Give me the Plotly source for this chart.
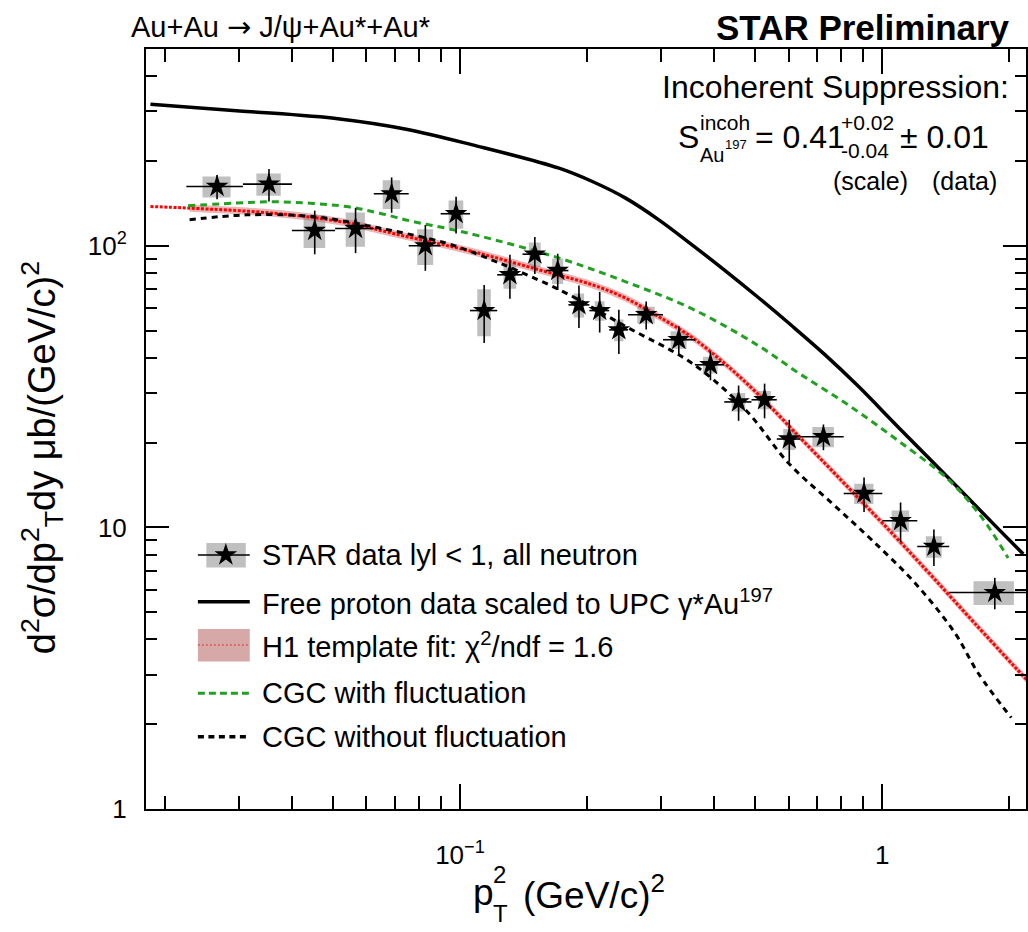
import plotly.graph_objects as go

# ---------------- data ----------------
# STAR data: bins in pT^2 (GeV/c)^2
bin_lo = [0.0225, 0.030625, 0.04, 0.050625, 0.0625, 0.075625, 0.09, 0.105625, 0.1225, 0.140625,
          0.16, 0.180625, 0.2025, 0.225625, 0.25, 0.3025, 0.36, 0.4225, 0.49, 0.5625,
          0.64, 0.81, 1.0, 1.21, 1.44]
bin_hi = [0.030625, 0.04, 0.050625, 0.0625, 0.075625, 0.09, 0.105625, 0.1225, 0.140625, 0.16,
          0.180625, 0.2025, 0.225625, 0.25, 0.3025, 0.36, 0.4225, 0.49, 0.5625, 0.64,
          0.81, 1.0, 1.21, 1.44, 2.25]
data_x = [0.0266, 0.0353, 0.0453, 0.0566, 0.0689, 0.0828, 0.0979, 0.1141, 0.1313, 0.1504,
          0.1704, 0.1913, 0.2142, 0.2378, 0.2760, 0.3297, 0.3918, 0.4568, 0.5263, 0.6021,
          0.7254, 0.9052, 1.1047, 1.3248, 1.8463]
data_y = [162.4, 165.6, 113.3, 115.2, 153.0, 100.0, 130.0, 58.9, 78.9, 93.4,
          81.7, 61.7, 58.9, 50.3, 56.9, 46.4, 37.8, 27.9, 28.4, 20.6,
          21.0, 13.2, 10.56, 8.56, 5.87]
stat_err = [16, 22, 20, 21, 22, 18.5, 19.5, 13.7, 14, 14,
            12, 10.6, 9.7, 9, 6.5, 5.4, 4.5, 4.0, 4.0, 3.5,
            2.2, 1.85, 1.7, 1.27, 0.75]
sys_err = [14, 15, 15, 16, 18, 14.5, 15, 11.2, 8.5, 9.4,
           8.5, 6, 4.7, 4.5, 3.9, 3.3, 2.6, 2.1, 2.1, 1.75,
           1.75, 1.1, 0.93, 0.75, 0.57]

# Free proton data scaled to UPC gamma*Au
free_x = [0.0185, 0.0301, 0.0519, 0.0746, 0.1071, 0.1716, 0.2058, 0.2467, 0.2957, 0.3544,
          0.4251, 0.5094, 0.6107, 0.7322, 0.8776, 1.091, 1.514, 1.897, 2.156]
free_y = [318.5, 301.4, 282.3, 259.6, 228.3, 188.7, 169.2, 147.7, 123.7, 100.8,
          81.5, 65.4, 52.0, 41.0, 31.7, 22.7, 13.8, 9.76, 8.04]

# H1 template fit (central line and band)
fit_x = [0.0185, 0.0229, 0.0361, 0.0519, 0.0746, 0.1071, 0.1539, 0.2058, 0.2467, 0.2957,
         0.3544, 0.4251, 0.5094, 0.6335, 0.759, 0.910, 1.091, 1.308, 1.656, 2.2]
fit_y = [137.9, 136.1, 130.6, 122.0, 107.9, 95.4, 82.2, 72.7, 65.2, 56.0,
         47.3, 38.0, 29.6, 21.1, 15.94, 12.02, 9.03, 6.73, 4.56, 2.87]
band_x = [0.0229, 0.0361, 0.0519, 0.0746, 0.1071, 0.1539, 0.2058, 0.2467, 0.2957,
          0.3544, 0.4251, 0.5094, 0.6335, 0.759, 0.910, 1.091, 1.308, 1.656, 2.2]
band_hi = [140.2, 134.5, 125.7, 111.1, 98.3, 84.7, 74.9, 67.2, 57.7,
           48.7, 39.1, 30.5, 21.7, 16.42, 12.38, 9.30, 6.93, 4.70, 2.96]
band_lo = [132.1, 126.8, 118.4, 104.8, 92.6, 79.8, 70.6, 63.3, 54.4,
           45.9, 36.9, 28.7, 20.5, 15.48, 11.67, 8.77, 6.53, 4.43, 2.79]

# CGC with fluctuation
cgcf_x = [0.0227, 0.0312, 0.0374, 0.0538, 0.0645, 0.0773, 0.0927, 0.111, 0.172, 0.247,
          0.354, 0.509, 0.634, 0.831, 1.091, 1.432, 1.716, 1.985]
cgcf_y = [138.7, 142.5, 143.3, 137.9, 130.6, 122.0, 115.5, 108.5, 90.4, 74.5,
          59.8, 44.2, 35.3, 27.2, 20.3, 14.8, 10.9, 7.79]

# CGC without fluctuation
cgc_x = [0.0229, 0.0312, 0.0449, 0.0645, 0.0927, 0.111, 0.172, 0.247, 0.354, 0.474,
         0.600, 0.759, 0.943, 1.195, 1.485, 1.686, 2.02]
cgc_y = [123.7, 128.8, 127.0, 115.6, 102.2, 92.9, 69.8, 51.7, 38.3, 26.2,
         16.9, 12.2, 9.04, 6.35, 4.22, 3.04, 2.11]

x_tick_vals = [0.1, 1]
x_tick_text = ["10<sup>\u22121</sup>", "1"]
y_tick_vals = [1, 10, 100]
y_tick_text = ["1", "10", "10<sup>2</sup>"]
x_minor = [0.02, 0.03, 0.04, 0.05, 0.06, 0.07, 0.08, 0.09,
           0.2, 0.3, 0.4, 0.5, 0.6, 0.7, 0.8, 0.9, 2]
y_minor = [2, 3, 4, 5, 6, 7, 8, 9, 20, 30, 40, 50, 60, 70, 80, 90, 200, 300, 400]

legend_labels = ["STAR data lyl &lt; 1, all neutron",
                 "Free proton data scaled to UPC \u03b3*Au<sup>197</sup>",
                 "H1 template fit: \u03c7<sup>2</sup>/ndf = 1.6",
                 "CGC with fluctuation",
                 "CGC without fluctuation"]

# ---------------- geometry helpers (pixel -> paper) ----------------
W, H = 1028, 932
L, R, T, B = 146, 1028, 49, 809
def X(px):
    return (px - L) / (R - L)
def Y(py):
    return (B - py) / (B - T)

FONT = "Liberation Sans, Arial, Helvetica, sans-serif"
GRAY = "#c0c0c0"

fig = go.Figure()

# systematic boxes (width = half of the bin width)
bx, by = [], []
for xc, lo, hi, yc, s in zip(data_x, bin_lo, bin_hi, data_y, sys_err):
    hw = (hi - lo) / 4.0
    bx += [xc - hw, xc + hw, xc + hw, xc - hw, xc - hw, None]
    by += [yc - s, yc - s, yc + s, yc + s, yc - s, None]
fig.add_trace(go.Scatter(x=bx, y=by, mode="lines", fill="toself", fillcolor=GRAY,
                         line=dict(width=0, color=GRAY), hoverinfo="skip", showlegend=False))

# H1 band + fit line
fig.add_trace(go.Scatter(x=band_x, y=band_lo, mode="lines", line=dict(width=0, color="rgba(0,0,0,0)"),
                         line_shape="spline", showlegend=False, hoverinfo="skip"))
fig.add_trace(go.Scatter(x=band_x, y=band_hi, mode="lines", line=dict(width=0, color="rgba(0,0,0,0)"),
                         line_shape="spline", fill="tonexty", fillcolor="rgba(205,95,95,0.45)",
                         showlegend=False, hoverinfo="skip"))
fig.add_trace(go.Scatter(x=fit_x, y=fit_y, mode="lines", line=dict(color="#ff0000", width=3, dash="3px,1.6px"),
                         line_shape="spline", showlegend=False))

# model curves
fig.add_trace(go.Scatter(x=free_x, y=free_y, mode="lines", line=dict(color="black", width=3.5),
                         line_shape="spline", showlegend=False))
fig.add_trace(go.Scatter(x=cgcf_x, y=cgcf_y, mode="lines",
                         line=dict(color="#22a022", width=3, dash="7px,5px"),
                         line_shape="spline", showlegend=False))
fig.add_trace(go.Scatter(x=cgc_x, y=cgc_y, mode="lines",
                         line=dict(color="black", width=3, dash="6px,5px"),
                         line_shape="spline", showlegend=False))

# data points with stat errors and bin widths
fig.add_trace(go.Scatter(
    x=data_x, y=data_y, mode="markers",
    marker=dict(symbol="star", size=17, color="black"),
    error_y=dict(type="data", array=stat_err, symmetric=True, color="black", thickness=1.6, width=0),
    error_x=dict(type="data", array=[h - c for h, c in zip(bin_hi, data_x)],
                 arrayminus=[c - l for c, l in zip(data_x, bin_lo)],
                 symmetric=False, color="black", thickness=1.6, width=0),
    showlegend=False))

# ---------------- legend (manual) ----------------
rows = [555, 601.7, 645, 693.3, 736.7]
sx0, sx1 = 198, 250
shapes = []
# row 1: gray box + line (below the legend star)
shapes.append(dict(type="rect", xref="paper", yref="paper", x0=X(206.5), x1=X(246), y0=Y(567.5), y1=Y(543),
                   fillcolor=GRAY, line=dict(width=0), layer="below"))
shapes.append(dict(type="line", xref="paper", yref="paper", x0=X(sx0), x1=X(sx1), y0=Y(rows[0]), y1=Y(rows[0]),
                   line=dict(color="black", width=1.6), layer="below"))
# row 2
shapes.append(dict(type="line", xref="paper", yref="paper", x0=X(sx0), x1=X(sx1), y0=Y(rows[1]), y1=Y(rows[1]),
                   line=dict(color="black", width=3.5), layer="above"))
# row 3
shapes.append(dict(type="rect", xref="paper", yref="paper", x0=X(sx0), x1=X(sx1), y0=Y(661.5), y1=Y(629),
                   fillcolor="#d7a8a8", line=dict(width=0), layer="above"))
shapes.append(dict(type="line", xref="paper", yref="paper", x0=X(sx0), x1=X(sx1), y0=Y(rows[2]), y1=Y(rows[2]),
                   line=dict(color="#e03030", width=1.2, dash="2px,2px"), layer="above"))
# row 4
shapes.append(dict(type="line", xref="paper", yref="paper", x0=X(sx0), x1=X(sx1), y0=Y(rows[3]), y1=Y(rows[3]),
                   line=dict(color="#22a022", width=3, dash="7px,4px"), layer="above"))
# row 5
shapes.append(dict(type="line", xref="paper", yref="paper", x0=X(sx0), x1=X(sx1), y0=Y(rows[4]), y1=Y(rows[4]),
                   line=dict(color="black", width=3.5, dash="6px,4.5px"), layer="above"))

# legend star via overlay axes in paper units
fig.add_trace(go.Scatter(x=[X(226)], y=[Y(rows[0])], xaxis="x2", yaxis="y2", mode="markers",
                         marker=dict(symbol="star", size=17, color="black"), cliponaxis=False,
                         showlegend=False, hoverinfo="skip"))

ann = []
for r, lab in zip(rows, legend_labels):
    ann.append(dict(xref="paper", yref="paper", x=X(260), y=Y(r), xanchor="left", yanchor="middle",
                    text=lab, showarrow=False, font=dict(family=FONT, size=29, color="black")))

# titles
ann.append(dict(xref="paper", yref="paper", x=X(281), y=Y(27), xanchor="center", yanchor="middle",
                text="Au+Au <span style=\"font-family:DejaVu Sans\">\u2192</span> J/\u03c8+Au*+Au*",
                showarrow=False, font=dict(family=FONT, size=29, color="black")))
ann.append(dict(xref="paper", yref="paper", x=X(1014), y=Y(27), xanchor="right", yanchor="middle",
                text="<b>STAR Preliminary</b>", showarrow=False,
                font=dict(family=FONT, size=35, color="black")))

# suppression formula
def t(px, py, text, size, xa="left"):
    ann.append(dict(xref="paper", yref="paper", x=X(px), y=Y(py), xanchor=xa, yanchor="middle",
                    text=text, showarrow=False, font=dict(family=FONT, size=size, color="black")))
t(1013, 87, "Incoherent Suppression:", 32, "right")
t(677, 137, "S", 32)
t(699, 123, "incoh", 21)
t(699, 155, "Au", 20)
t(724, 145, "197", 13)
t(754, 137, "= 0.41", 32)
t(841, 123, "+0.02", 21)
t(841, 150, "-0.04", 21)
t(900, 137, "\u00b1 0.01", 32)
t(872.5, 181, "(scale)", 25, "center")
t(966, 181, "(data)", 25, "center")

# axis titles
t(472, 892, "p", 37)
t(492, 874, "2", 24)
t(492, 913, "T", 24)
t(522, 892, "(GeV/c)<sup>2</sup>", 37)
ann.append(dict(xref="paper", yref="paper", x=X(42), y=Y(458), xanchor="center", yanchor="middle",
                text="d<sup>2</sup>\u03c3/dp<sup>2</sup><sub>T</sub>dy \u03bcb/(GeV/c)<sup>2</sup>",
                textangle=-90, showarrow=False, font=dict(family=FONT, size=38, color="black")))

axis_common = dict(showline=True, linecolor="black", linewidth=2, mirror="ticks", ticks="inside",
                   tickcolor="black", tickwidth=1.5, showgrid=False, zeroline=False,
                   tickfont=dict(family=FONT, size=26, color="black"))

fig.update_layout(
    width=W, height=H, margin=dict(l=L, r=W - R, t=T, b=H - B),
    paper_bgcolor="white", plot_bgcolor="white", showlegend=False,
    font=dict(family=FONT, color="black"),
    xaxis=dict(type="log", range=[-1.7434, 0.3402], tickmode="array", tickvals=x_tick_vals,
               ticktext=x_tick_text, ticklen=25, ticklabelstandoff=22,
               minor=dict(ticks="inside", ticklen=13, tickvals=x_minor, tickcolor="black", tickwidth=1.5),
               **axis_common),
    yaxis=dict(type="log", range=[0, 2.69897], tickmode="array", tickvals=y_tick_vals,
               ticktext=y_tick_text, ticklen=23, ticklabelstandoff=12,
               minor=dict(ticks="inside", ticklen=11, tickvals=y_minor, tickcolor="black", tickwidth=1.5),
               **axis_common),
    xaxis2=dict(overlaying="x", range=[0, 1], visible=False, fixedrange=True),
    yaxis2=dict(overlaying="y", range=[0, 1], visible=False, fixedrange=True),
    shapes=shapes, annotations=ann,
)

fig.write_html("out.html", config={"displayModeBar": False},
               post_script="document.body.style.margin='0px';")
